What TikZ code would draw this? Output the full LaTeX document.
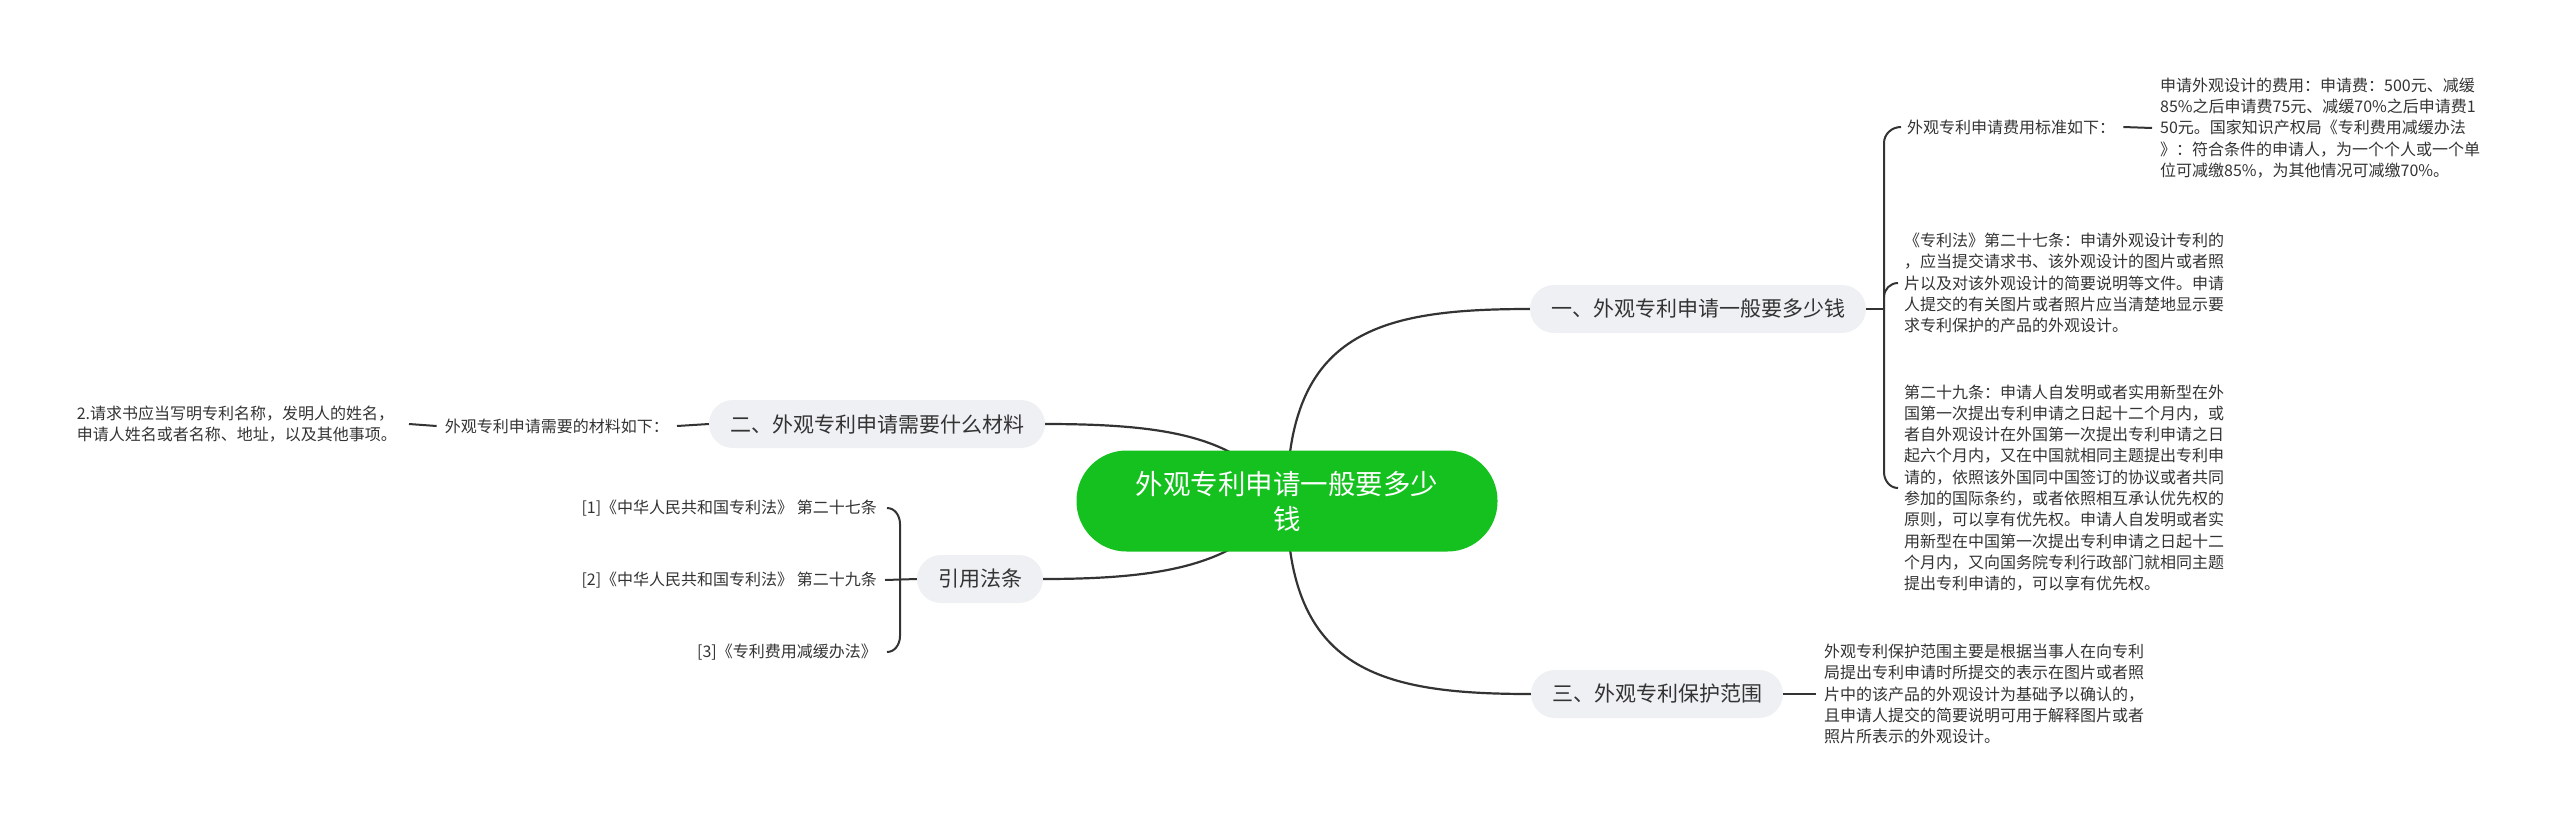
\documentclass[tikz,border=0pt]{standalone}
\usepackage{fontspec}
\setmainfont{Noto Sans CJK SC}
\usetikzlibrary{positioning, calc, backgrounds}

\definecolor{rootgreen}{HTML}{14C11F}
\definecolor{topicgray}{HTML}{EEF0F3}
\definecolor{inkgray}{HTML}{333333}

\tikzset{
  rootnode/.style={fill=rootgreen, text=white, rounded corners=50pt, minimum width=421pt,
    minimum height=101pt, align=center, font=\fontsize{27.5}{35}\selectfont},
  topic/.style={fill=topicgray, text=inkgray, rounded corners=24pt, minimum height=48pt,
    inner xsep=21pt, inner ysep=0pt, font=\fontsize{21}{25}\selectfont},
  leaf/.style={text=inkgray, inner sep=0pt, align=left, font=\fontsize{16}{21.3}\selectfont},
  link/.style={draw=inkgray, line width=2.2pt},
  brk/.style={draw=inkgray, line width=2pt},
}

\begin{document}
\begin{tikzpicture}[x=1pt, y=-1pt]
  \path[use as bounding box] (0,0) rectangle (2560,823);

  % root
  \node[rootnode] (root) at (1287,501) {外观专利申请一般要多少\\钱};

  % topics
  \node[topic] (cost) at (1698,309) {一、外观专利申请一般要多少钱};
  \node[topic] (scope) at (1657,694) {三、外观专利保护范围};
  \node[topic] (docs) at (877,424) {二、外观专利申请需要什么材料};
  \node[topic] (refs) at (980,579) {引用法条};

  % right side, cost
  \node[leaf, anchor=west] (feeStd) at (1907,127) {外观专利申请费用标准如下：};
  \node[leaf, anchor=west] (feeText) at (2160,128)
    {申请外观设计的费用：申请费：500元、减缓\\
     85\%之后申请费75元、减缓70\%之后申请费1\\
     50元。国家知识产权局《专利费用减缓办法\\
     》：符合条件的申请人，为一个个人或一个单\\
     位可减缴85\%，为其他情况可减缴70\%。};
  \node[leaf, anchor=west] (art27) at (1904,283)
    {《专利法》第二十七条：申请外观设计专利的\\
     ，应当提交请求书、该外观设计的图片或者照\\
     片以及对该外观设计的简要说明等文件。申请\\
     人提交的有关图片或者照片应当清楚地显示要\\
     求专利保护的产品的外观设计。};
  \node[leaf, anchor=west] (art29) at (1904,488)
    {第二十九条：申请人自发明或者实用新型在外\\
     国第一次提出专利申请之日起十二个月内，或\\
     者自外观设计在外国第一次提出专利申请之日\\
     起六个月内，又在中国就相同主题提出专利申\\
     请的，依照该外国同中国签订的协议或者共同\\
     参加的国际条约，或者依照相互承认优先权的\\
     原则，可以享有优先权。申请人自发明或者实\\
     用新型在中国第一次提出专利申请之日起十二\\
     个月内，又向国务院专利行政部门就相同主题\\
     提出专利申请的，可以享有优先权。};

  % right side, scope
  \node[leaf, anchor=west] (scopeText) at (1824,694)
    {外观专利保护范围主要是根据当事人在向专利\\
     局提出专利申请时所提交的表示在图片或者照\\
     片中的该产品的外观设计为基础予以确认的，\\
     且申请人提交的简要说明可用于解释图片或者\\
     照片所表示的外观设计。};

  % left side, docs
  \node[leaf, anchor=east] (docsList) at (669,426) {外观专利申请需要的材料如下：};
  \node[leaf, anchor=east] (docsText) at (397,424)
    {2.请求书应当写明专利名称，发明人的姓名，\\
     申请人姓名或者名称、地址，以及其他事项。};

  % left side, refs
  \node[leaf, anchor=east] (ref1) at (877,508) {[1]《中华人民共和国专利法》 第二十七条};
  \node[leaf, anchor=east] (ref2) at (877,580) {[2]《中华人民共和国专利法》 第二十九条};
  \node[leaf, anchor=east] (ref3) at (877,652) {[3]《专利费用减缓办法》};

  \coordinate (costJoin) at (1884,309);
  \coordinate (refsJoin) at (900,579);

  % connectors
  \begin{scope}[on background layer]
    \draw[link] (root.center) .. controls +(0,-170) and +(-150,0) .. (cost.west);
    \draw[link] (root.center) .. controls +(0,170) and +(-150,0) .. (scope.west);
    \draw[link] (docs.east) .. controls (1180,424) and (1240,440) .. (root.center);
    \draw[link] (refs.east) .. controls (1180,579) and (1240,560) .. (root.center);
  \end{scope}

  \draw[brk] (cost.east) -- (costJoin);
  \draw[brk] ([xshift=-6pt]feeStd.west) to[out=180,in=90] ([yshift=-16pt]feeStd.west -| costJoin)
    -- ([yshift=16pt]art29.west -| costJoin) to[out=-90,in=180] ([xshift=-6pt]art29.west);
  \draw[brk] ([yshift=-14pt]art27.west -| costJoin) to[out=90,in=180] ([xshift=-6pt]art27.west);
  \draw[brk] ([xshift=8pt]feeStd.east) -- ([xshift=-8pt]feeText.west);

  \draw[brk] (scope.east) -- ([xshift=-8pt]scopeText.west);

  \draw[brk] (docs.west) -- ([xshift=8pt]docsList.east);
  \draw[brk] ([xshift=-8pt]docsList.west) -- ([xshift=12pt]docsText.east);

  \draw[brk] (refs.west) -- ([xshift=8pt]ref2.east);
  \draw[brk] ([xshift=10pt]ref1.east) to[out=0,in=90] ([yshift=-16pt]ref1.east -| refsJoin)
    -- ([yshift=16pt]ref3.east -| refsJoin) to[out=-90,in=0] ([xshift=10pt]ref3.east);
\end{tikzpicture}
\end{document}
